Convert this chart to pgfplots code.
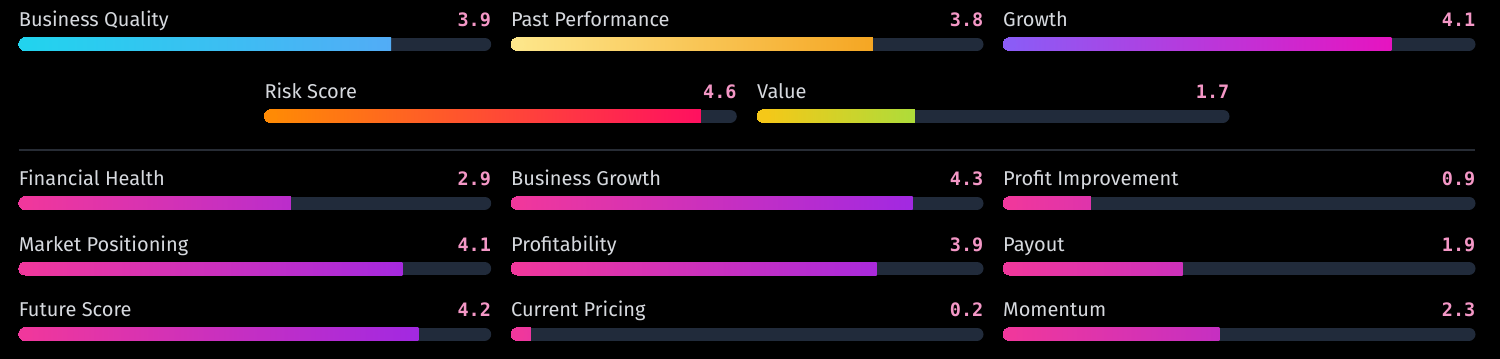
\documentclass[border=0pt]{standalone}
\usepackage{pgfplots}
\pgfplotsset{compat=1.18}
\usepackage{fontspec}
\setmainfont{Fira Sans}
\newfontfamily\valfont{DejaVu Sans Mono}
\definecolor{track}{HTML}{212B3B}
\definecolor{divider}{HTML}{272C35}
\definecolor{lbl}{HTML}{D6D9DE}
\definecolor{val}{HTML}{F497C6}
\definecolor{pinkL}{HTML}{F0379C}
\definecolor{pinkR}{HTML}{9426EE}
\definecolor{bqL}{HTML}{22D3EE}
\definecolor{bqR}{HTML}{52ACF6}
\definecolor{ppL}{HTML}{FDE68A}
\definecolor{ppR}{HTML}{F5A623}
\definecolor{grL}{HTML}{8B5CF6}
\definecolor{grR}{HTML}{E614C0}
\definecolor{rsL}{HTML}{FF8A05}
\definecolor{rsR}{HTML}{FF1060}
\definecolor{vaL}{HTML}{F5C818}
\definecolor{vaR}{HTML}{AEDC3A}

% #1 x0 (bp), #2 bar centre from top (bp), #3 label, #4 shown score, #5 bar value, #6 left colour, #7 right colour
\newcommand\scorebar[7]{%
\begin{axis}[at={(#1bp,-#2bp)}, anchor=west, width=472.5bp, height=13bp,
  scale only axis, xmin=0, xmax=5, ymin=-1, ymax=1, hide axis, clip=false]
\addplot[track, line width=13bp, line cap=round] coordinates {(0.0688,0) (4.9312,0)};
\addplot[#6, only marks, mark=*, mark size=6.5bp, mark options={solid, fill=#6, draw=#6, line width=0pt}] coordinates {(0.0688,0)};
\addplot[draw=none, left color=#6, right color=#7] coordinates {(0.0688,-1) (#5,-1) (#5,1) (0.0688,1)};
\node[anchor=base west, inner sep=0, text=lbl, font=\fontsize{20bp}{24bp}\selectfont] at (axis cs:0,2.69) {#3};
\node[anchor=base east, inner sep=0, text=val, font=\valfont\bfseries\fontsize{18.5bp}{22bp}\selectfont] at (axis cs:5,2.69) {#4};
\end{axis}}

\newcommand\pinkbar[5]{%
\pgfmathtruncatemacro\pp{20*#5+0.5}%
\scorebar{#1}{#2}{#3}{#4}{#5}{pinkL}{pinkR!\pp!pinkL}}

\begin{document}
\begin{tikzpicture}
\useasboundingbox (0,0) rectangle (1500bp,-359bp);
\fill[black] (0,0) rectangle (1500bp,-359bp);
\draw[divider, line width=1.5bp] (18.7bp,-150bp) -- (1475bp,-150bp);

\scorebar{18.7}{44}{Business Quality}{3.9}{3.94}{bqL}{bqR}
\scorebar{511}{44}{Past Performance}{3.8}{3.83}{ppL}{ppR}
\scorebar{1003}{44}{Growth}{4.1}{4.11}{grL}{grR}

\scorebar{264.3}{116}{Risk Score}{4.6}{4.62}{rsL}{rsR}
\scorebar{757}{116}{Value}{1.7}{1.67}{vaL}{vaR}

\pinkbar{18.7}{203}{Financial Health}{2.9}{2.88}
\pinkbar{511}{203}{Business Growth}{4.3}{4.25}
\pinkbar{1003}{203}{Profit Improvement}{0.9}{0.93}

\pinkbar{18.7}{268.5}{Market Positioning}{4.1}{4.06}
\pinkbar{511}{268.5}{Profitability}{3.9}{3.87}
\pinkbar{1003}{268.5}{Payout}{1.9}{1.90}

\pinkbar{18.7}{334}{Future Score}{4.2}{4.23}
\pinkbar{511}{334}{Current Pricing}{0.2}{0.21}
\pinkbar{1003}{334}{Momentum}{2.3}{2.29}
\end{tikzpicture}
\end{document}
